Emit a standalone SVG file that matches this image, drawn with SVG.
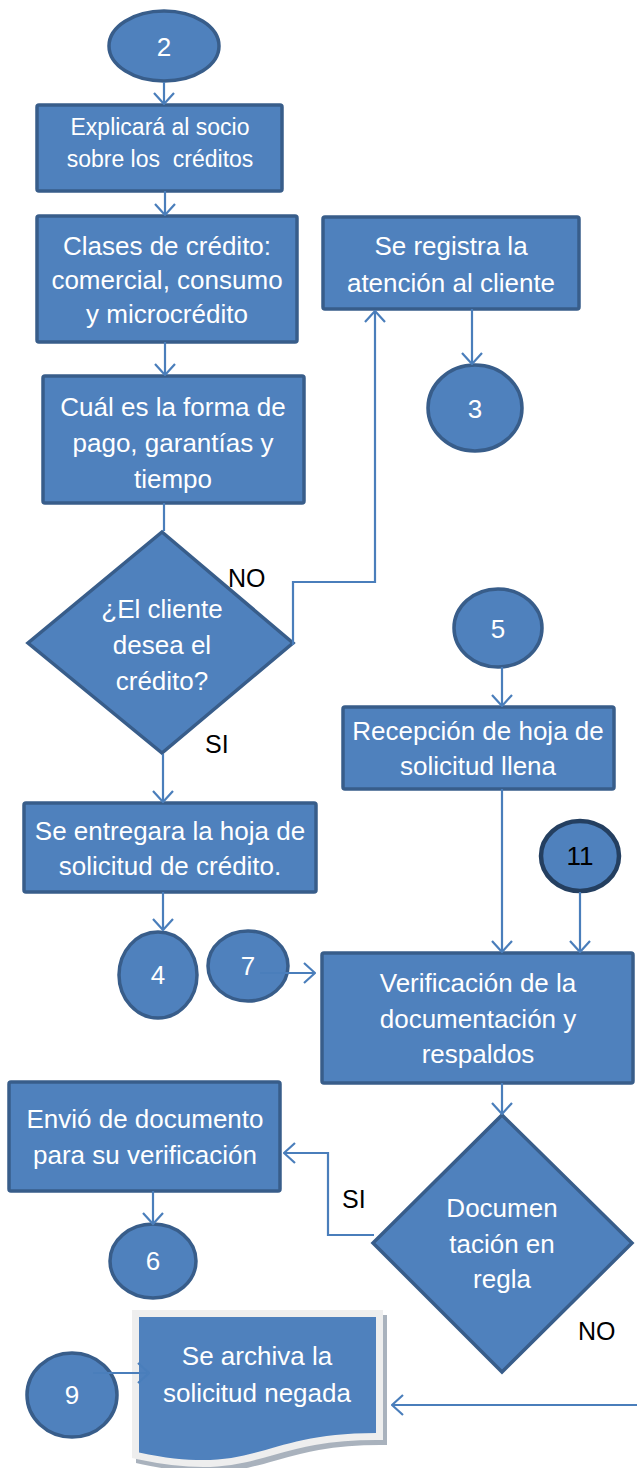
<svg xmlns="http://www.w3.org/2000/svg" width="637" height="1468" viewBox="0 0 637 1468">
<style>
.shape{fill:#4f81bd;stroke:#385d8a;stroke-width:3.5;stroke-linejoin:miter}
.conn{fill:none;stroke:#4a7ebb;stroke-width:2.2}
.t{font-family:"Liberation Sans",Arial,sans-serif;font-size:26px;fill:#ffffff;text-anchor:middle}
.lbl{font-family:"Liberation Sans",Arial,sans-serif;font-size:25px;fill:#000000}
</style>
<defs>
<marker id="arr" viewBox="0 0 13 22" refX="12" refY="11" markerWidth="13" markerHeight="22" markerUnits="userSpaceOnUse" orient="auto">
<path d="M1,1 L12,11 L1,21" fill="none" stroke="#4a7ebb" stroke-width="2.2"/>
</marker>
</defs>
<rect width="637" height="1468" fill="#ffffff"/>

<g id="n2">
<ellipse class="shape" cx="164" cy="46" rx="55" ry="35"/>
<text class="t" x="164" y="56">2</text>
</g>
<g id="box-explicara">
<rect class="shape" x="37" y="105" width="245" height="86" rx="2"/>
<text class="t" style="font-size:23px" x="160" y="135">Explicará al socio</text>
<text class="t" style="font-size:23px" x="160" y="167" xml:space="preserve">sobre los  créditos</text>
</g>
<g id="box-clases">
<rect class="shape" x="37" y="216" width="260" height="126" rx="2"/>
<text class="t" x="167" y="255">Clases de crédito:</text>
<text class="t" x="167" y="289">comercial, consumo</text>
<text class="t" x="167" y="323">y microcrédito</text>
</g>
<g id="box-forma">
<rect class="shape" x="43" y="376" width="261" height="127" rx="2"/>
<text class="t" x="173" y="416">Cuál es la forma de</text>
<text class="t" x="173" y="452">pago, garantías y</text>
<text class="t" x="173" y="488">tiempo</text>
</g>
<g id="dec-desea">
<polygon class="shape" points="162,532 293,643 162,753 28,643"/>
<text class="t" x="162" y="618">¿El cliente</text>
<text class="t" x="162" y="654">desea el</text>
<text class="t" x="162" y="690">crédito?</text>
</g>
<g id="labels">
<text class="lbl" x="228" y="587">NO</text>
<text class="lbl" x="205" y="753">SI</text>
<text class="lbl" x="342" y="1208">SI</text>
<text class="lbl" x="578" y="1340">NO</text>
</g>
<g id="box-registra">
<rect class="shape" x="323" y="217" width="256" height="92" rx="2"/>
<text class="t" x="451" y="255">Se registra la</text>
<text class="t" x="451" y="292">atención al cliente</text>
</g>
<g id="n3">
<ellipse class="shape" cx="475" cy="408" rx="47" ry="43"/>
<text class="t" x="475" y="418">3</text>
</g>
<g id="n5">
<ellipse class="shape" cx="498" cy="628" rx="44" ry="39"/>
<text class="t" x="498" y="638">5</text>
</g>
<g id="box-recepcion">
<rect class="shape" x="343" y="707" width="271" height="82" rx="2"/>
<text class="t" x="478" y="740">Recepción de hoja de</text>
<text class="t" x="478" y="775">solicitud llena</text>
</g>
<g id="box-entregara">
<rect class="shape" x="24" y="803" width="292" height="89" rx="2"/>
<text class="t" x="170" y="840">Se entregara la hoja de</text>
<text class="t" x="170" y="875">solicitud de crédito.</text>
</g>
<g id="n11">
<ellipse cx="580" cy="856" rx="39" ry="35" fill="#4f81bd" stroke="#243f60" stroke-width="4.5"/>
<text class="t" style="fill:#000000" x="580" y="865">11</text>
</g>
<g id="n4">
<ellipse class="shape" cx="158" cy="975" rx="39" ry="43"/>
<text class="t" x="158" y="984">4</text>
</g>
<g id="n7">
<ellipse class="shape" cx="248" cy="966" rx="40" ry="35"/>
<text class="t" x="248" y="975">7</text>
</g>
<g id="box-verificacion">
<rect class="shape" x="322" y="953" width="311" height="130" rx="2"/>
<text class="t" x="478" y="992">Verificación de la</text>
<text class="t" x="478" y="1028">documentación y</text>
<text class="t" x="478" y="1063">respaldos</text>
</g>
<g id="box-envio">
<rect class="shape" x="9" y="1082" width="271" height="109" rx="2"/>
<text class="t" x="145" y="1128">Envió de documento</text>
<text class="t" x="145" y="1164">para su verificación</text>
</g>
<g id="dec-regla">
<polygon class="shape" points="502,1115 632,1243 502,1372 373,1243"/>
<text class="t" x="502" y="1217">Documen</text>
<text class="t" x="502" y="1253">tación en</text>
<text class="t" x="502" y="1288">regla</text>
</g>
<g id="n6">
<ellipse class="shape" cx="153" cy="1261" rx="43" ry="37"/>
<text class="t" x="153" y="1270">6</text>
</g>
<g id="doc-archiva">
<path d="M139,1317 H376 V1433 C257.5,1433 257.5,1477.6 139,1452.4 Z" transform="translate(4,5)" fill="#8d99a8" stroke="#8d99a8" stroke-width="14" stroke-linejoin="miter" opacity="0.75"/>
<path d="M139,1317 H376 V1433 C257.5,1433 257.5,1477.6 139,1452.4 Z" fill="#f2f2f2" stroke="#eeeeee" stroke-width="14" stroke-linejoin="miter"/>
<path d="M139,1317 H376 V1433 C257.5,1433 257.5,1477.6 139,1452.4 Z" fill="#4f81bd"/>
<text class="t" x="257" y="1365">Se archiva la</text>
<text class="t" x="257" y="1402">solicitud negada</text>
</g>
<g id="n9">
<ellipse class="shape" cx="72" cy="1395" rx="45" ry="42"/>
<text class="t" x="72" y="1404">9</text>
</g>

<g id="connectors">
<line class="conn" x1="164" y1="82" x2="164" y2="104" marker-end="url(#arr)"/>
<line class="conn" x1="165" y1="191" x2="165" y2="215" marker-end="url(#arr)"/>
<line class="conn" x1="165" y1="342" x2="165" y2="375" marker-end="url(#arr)"/>
<line class="conn" x1="164" y1="503" x2="164" y2="531"/>
<polyline class="conn" points="293,645 293,582 375,582 375,311" marker-end="url(#arr)"/>
<line class="conn" x1="472" y1="309" x2="472" y2="364" marker-end="url(#arr)"/>
<line class="conn" x1="163" y1="754" x2="163" y2="802" marker-end="url(#arr)"/>
<line class="conn" x1="163" y1="892" x2="163" y2="930" marker-end="url(#arr)"/>
<line class="conn" x1="260" y1="973" x2="315" y2="973" marker-end="url(#arr)"/>
<line class="conn" x1="502" y1="667" x2="502" y2="706" marker-end="url(#arr)"/>
<line class="conn" x1="502" y1="789" x2="502" y2="952" marker-end="url(#arr)"/>
<line class="conn" x1="580" y1="892" x2="580" y2="952" marker-end="url(#arr)"/>
<line class="conn" x1="502" y1="1083" x2="502" y2="1114" marker-end="url(#arr)"/>
<polyline class="conn" points="374,1235 328,1235 328,1153 284,1153" marker-end="url(#arr)"/>
<line class="conn" x1="153" y1="1191" x2="153" y2="1224" marker-end="url(#arr)"/>
<line class="conn" x1="637" y1="1405" x2="392" y2="1405" marker-end="url(#arr)"/>
<line class="conn" x1="93" y1="1373" x2="149" y2="1373" marker-end="url(#arr)"/>
</g>
</svg>
